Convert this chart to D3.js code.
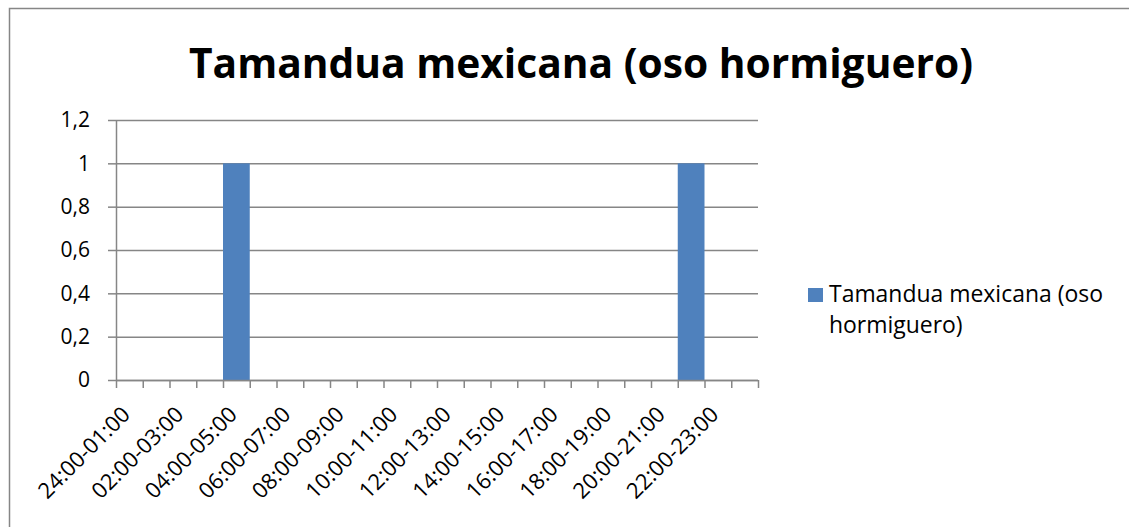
<!DOCTYPE html>
<html>
<head>
<meta charset="utf-8">
<script src="https://d3js.org/d3.v7.min.js"></script>
<style>
  html, body { margin: 0; padding: 0; background: #ffffff; }
  svg { display: block; }
  text { font-family: "Open Sans", "Noto Sans", "DejaVu Sans", sans-serif; fill: #000; }
</style>
</head>
<body>
<svg id="chart" width="1129" height="527"></svg>
<script>
// Hourly detections of Tamandua mexicana
const categories = [
  "24:00-01:00", "01:00-02:00", "02:00-03:00", "03:00-04:00",
  "04:00-05:00", "05:00-06:00", "06:00-07:00", "07:00-08:00",
  "08:00-09:00", "09:00-10:00", "10:00-11:00", "11:00-12:00",
  "12:00-13:00", "13:00-14:00", "14:00-15:00", "15:00-16:00",
  "16:00-17:00", "17:00-18:00", "18:00-19:00", "19:00-20:00",
  "20:00-21:00", "21:00-22:00", "22:00-23:00", "23:00-24:00"
];
const values = [0, 0, 0, 0, 1, 0, 0, 0, 0, 0, 0, 0, 0, 0, 0, 0, 0, 0, 0, 0, 0, 1, 0, 0];
const yTicks = [0, 0.2, 0.4, 0.6, 0.8, 1, 1.2];
const seriesName = "Tamandua mexicana (oso hormiguero)";
const titleText = "Tamandua mexicana (oso hormiguero)";

const svg = d3.select("#chart");
const W = 1129, H = 527;
const plot = { left: 116, right: 758, top: 120, bottom: 380 };
const gridColor = "#868686";
const barColor = "#4f81bd";

// scale a text element's font size so that it spans the given width
function fitWidth(sel, base, target) {
  sel.style("font-size", base + "px");
  sel.each(function () {
    const w = this.getComputedTextLength();
    d3.select(this).style("font-size", (base * target / w).toFixed(2) + "px");
  });
}

// outer chart frame (runs off the right and bottom edges)
svg.append("path")
  .attr("d", `M9.5,${H} V8.5 H${W}`)
  .attr("fill", "none")
  .attr("stroke", "#868686")
  .attr("stroke-width", 1.5);

const x = d3.scaleBand()
  .domain(categories)
  .range([plot.left, plot.right])
  .paddingInner(0)
  .paddingOuter(0);

const y = d3.scaleLinear()
  .domain([0, 1.2])
  .range([plot.bottom, plot.top]);

const fmt = d => String(+d.toFixed(1)).replace(".", ",");

// horizontal gridlines
svg.append("g")
  .selectAll("line")
  .data(yTicks)
  .join("line")
  .attr("x1", plot.left)
  .attr("x2", plot.right)
  .attr("y1", d => y(d) + 0.5)
  .attr("y2", d => y(d) + 0.5)
  .attr("stroke", gridColor)
  .attr("stroke-width", 1.5);

// y axis
const yAxis = d3.axisLeft(y)
  .tickValues(yTicks)
  .tickSize(8)
  .tickPadding(18)
  .tickFormat(fmt);

const gy = svg.append("g")
  .attr("transform", `translate(${plot.left},0)`)
  .call(yAxis);
gy.select(".domain").attr("stroke", gridColor).attr("stroke-width", 1.5)
  .attr("d", `M0.5,${plot.top} V${plot.bottom}`);
gy.selectAll(".tick line").attr("stroke", gridColor).attr("stroke-width", 1.5);
gy.selectAll(".tick text")
  .style("font-size", "21px")
  .attr("fill", "#000");

// bars
svg.append("g")
  .selectAll("rect")
  .data(categories.map((c, i) => ({ c, v: values[i] })).filter(d => d.v > 0))
  .join("rect")
  .attr("x", d => x(d.c))
  .attr("width", x.bandwidth())
  .attr("y", d => y(d.v))
  .attr("height", d => y(0) - y(d.v))
  .attr("fill", barColor);

// x axis with tick marks on band boundaries
const boundaries = categories.map(c => x(c)).concat([plot.right]);
const gx = svg.append("g");
gx.append("line")
  .attr("x1", plot.left).attr("x2", plot.right)
  .attr("y1", plot.bottom + 0.5).attr("y2", plot.bottom + 0.5)
  .attr("stroke", gridColor).attr("stroke-width", 1.5);
gx.selectAll("line.tk")
  .data(boundaries)
  .join("line")
  .attr("class", "tk")
  .attr("x1", d => d + 0.5).attr("x2", d => d + 0.5)
  .attr("y1", plot.bottom).attr("y2", plot.bottom + 8)
  .attr("stroke", gridColor).attr("stroke-width", 1.5);

// category labels: every other hour, rotated
const xl = gx.selectAll("text")
  .data(categories.filter((c, i) => i % 2 === 0))
  .join("text")
  .attr("transform", d => `translate(${x(d) + x.bandwidth() / 2 + 2},${plot.bottom + 36}) rotate(-45)`)
  .attr("text-anchor", "end")
  .text(d => d);
fitWidth(xl, 20, 119);

// title
const title = svg.append("text")
  .attr("x", 581)
  .attr("y", 78)
  .attr("text-anchor", "middle")
  .style("font-weight", "bold")
  .text(titleText);
fitWidth(title, 40, 784);

// legend
const lg = svg.append("g").attr("transform", "translate(808,288)");
lg.append("rect").attr("width", 15).attr("height", 14).attr("fill", barColor);
const words = seriesName.split(" ");
const l1 = lg.append("text")
  .attr("x", 21).attr("y", 14)
  .text(words.slice(0, 3).join(" "));
fitWidth(l1, 20, 274);
const fs = l1.style("font-size");
lg.append("text")
  .attr("x", 21).attr("y", 45)
  .style("font-size", fs)
  .text(words.slice(3).join(" "));
</script>
</body>
</html>
